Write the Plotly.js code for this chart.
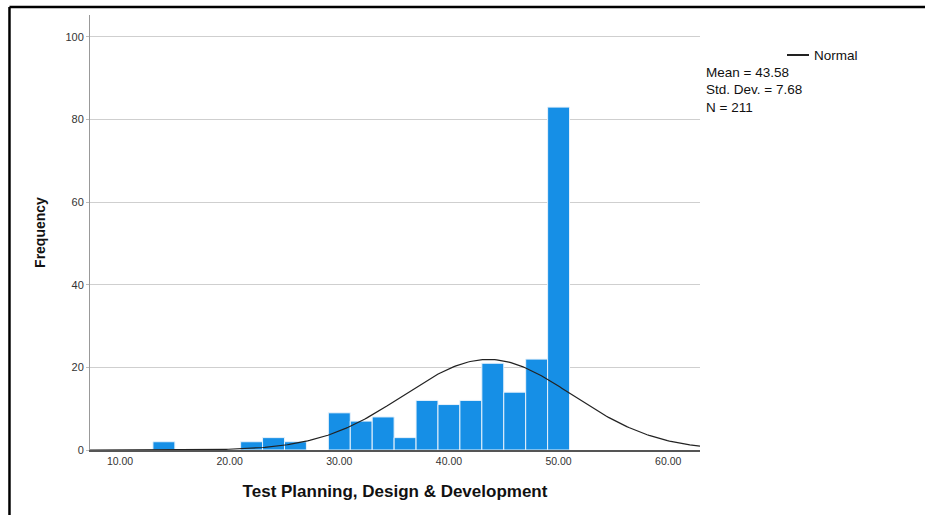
<!DOCTYPE html>
<html>
<head>
<meta charset="utf-8">
<script src="https://cdn.plot.ly/plotly-3.0.1.min.js"></script>
<style>
  html, body { margin: 0; padding: 0; background: #fff; }
  #chart { width: 925px; height: 515px; }
</style>
</head>
<body>
<div id="chart"></div>
<script>
// Histogram bins (width 2) and their frequencies
const binCenters = [14, 22, 24, 26, 30, 32, 34, 36, 38, 40, 42, 44, 46, 48, 50];
const frequency  = [2, 2, 3, 2, 9, 7, 8, 3, 12, 11, 12, 21, 14, 22, 83];
const binWidth = 2;

// Summary statistics shown beside the chart
const MEAN = 43.58;
const SD = 7.68;
const N = 211;

const xTicks = [10, 20, 30, 40, 50, 60];
const yTicks = [0, 20, 40, 60, 80, 100];
const xRange = [7.26, 62.9];
const yRange = [0, 105.3];

// Fitted normal curve scaled to the histogram counts
const curveX = [];
const curveY = [];
const steps = 300;
for (let i = 0; i <= steps; i++) {
  const x = xRange[0] + (xRange[1] - xRange[0]) * i / steps;
  const z = (x - MEAN) / SD;
  curveX.push(x);
  curveY.push(N * binWidth * Math.exp(-0.5 * z * z) / (SD * Math.sqrt(2 * Math.PI)));
}

const bars = {
  type: 'bar',
  x: binCenters,
  y: frequency,
  width: binWidth,
  marker: { color: '#168FE6', line: { color: '#E8F2FB', width: 1 } },
  showlegend: false,
  hoverinfo: 'x+y'
};

const normal = {
  type: 'scatter',
  mode: 'lines',
  x: curveX,
  y: curveY,
  line: { color: '#222', width: 1.2 },
  name: 'Normal',
  showlegend: false,
  hoverinfo: 'skip'
};

const statFont = { family: '"Liberation Sans Narrow", "Liberation Sans", Arial, sans-serif', size: 13.5, color: '#111' };

const layout = {
  width: 925,
  height: 515,
  margin: { l: 90, r: 225, t: 15, b: 65 },
  paper_bgcolor: '#fff',
  plot_bgcolor: '#fff',
  bargap: 0,
  xaxis: {
    range: xRange,
    tickvals: xTicks,
    ticktext: xTicks.map(v => v.toFixed(2)),
    showgrid: false,
    zeroline: false,
    showline: true,
    linecolor: '#555',
    linewidth: 2,
    ticks: '',
    tickfont: { family: '"Liberation Sans", Arial, sans-serif', size: 10.5, color: '#333' },
    title: {
      text: 'Test Planning, Design &amp; Development',
      font: { family: '"Liberation Sans", Arial, sans-serif', size: 17, color: '#111', weight: 'bold' },
      standoff: 20
    }
  },
  yaxis: {
    range: yRange,
    tickvals: yTicks,
    showgrid: true,
    gridcolor: '#cfcfcf',
    gridwidth: 1,
    zeroline: false,
    showline: true,
    linecolor: '#999',
    linewidth: 1,
    ticks: 'outside',
    ticklen: 3,
    tickcolor: '#bbb',
    tickfont: { family: '"Liberation Sans", Arial, sans-serif', size: 11, color: '#333' },
    title: {
      text: 'Frequency',
      font: { family: '"Liberation Sans", Arial, sans-serif', size: 14, color: '#111', weight: 'bold' },
      standoff: 16
    }
  },
  shapes: [
    // frame lines along the top and left of the figure
    { type: 'line', xref: 'paper', yref: 'paper', x0: -0.132, x1: 1.4, y0: 1.0184, y1: 1.0184,
      line: { color: '#000', width: 2.5 } },
    { type: 'line', xref: 'paper', yref: 'paper', x0: -0.132, x1: -0.132, y0: 1.0184, y1: -0.2,
      line: { color: '#000', width: 2.5 } },
    // legend sample for the normal curve
    { type: 'line', xref: 'paper', yref: 'paper', x0: 1.1426, x1: 1.1787, y0: 0.9080, y1: 0.9080,
      line: { color: '#222', width: 2 } }
  ],
  annotations: [
    { xref: 'paper', yref: 'paper', x: 1.184, y: 0.9080, xanchor: 'left', yanchor: 'middle',
      text: 'Normal', showarrow: false, font: statFont },
    { xref: 'paper', yref: 'paper', x: 1.0066, y: 0.8667, xanchor: 'left', yanchor: 'middle',
      text: 'Mean = ' + MEAN.toFixed(2), showarrow: false, font: statFont },
    { xref: 'paper', yref: 'paper', x: 1.0066, y: 0.8276, xanchor: 'left', yanchor: 'middle',
      text: 'Std. Dev. = ' + SD.toFixed(2), showarrow: false, font: statFont },
    { xref: 'paper', yref: 'paper', x: 1.0066, y: 0.7885, xanchor: 'left', yanchor: 'middle',
      text: 'N = ' + N, showarrow: false, font: statFont }
  ]
};

Plotly.newPlot('chart', [bars, normal], layout, { displayModeBar: false, staticPlot: true });
</script>
</body>
</html>
